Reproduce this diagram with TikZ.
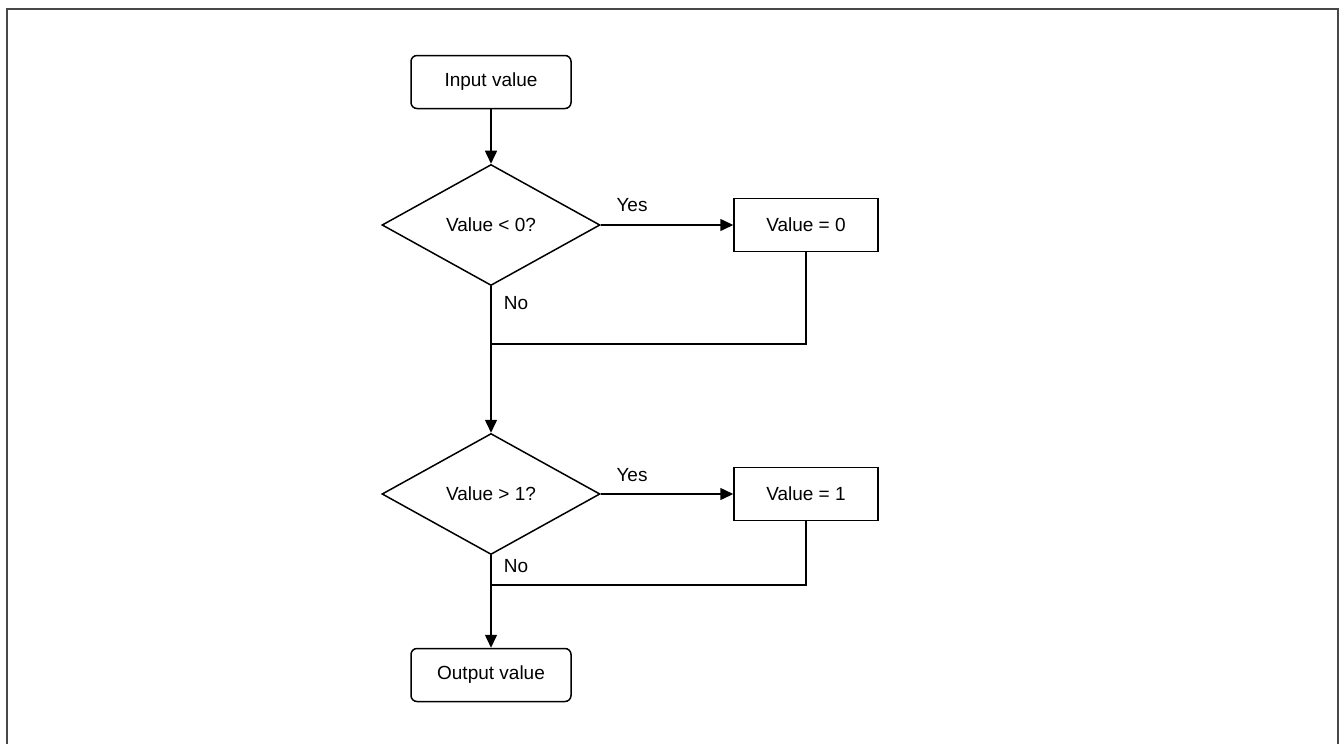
\documentclass[tikz,border=0pt]{standalone}
\usepackage{fontspec}
\setmainfont{Liberation Sans}
\usetikzlibrary{shapes.geometric,arrows.meta}
\begin{document}
\begin{tikzpicture}[x=1pt,y=-1pt,
  every node/.style={font=\fontsize{19}{23}\selectfont},
  conn/.style={line width=1.5pt,draw=black},
  arr/.style={conn,-{Triangle[length=13pt,width=12pt]}},
  term/.style={draw,line width=1.5pt,rounded corners=6pt,minimum width=160pt,minimum height=53pt,inner sep=0pt},
  proc/.style={draw,line width=1.5pt,minimum width=144pt,minimum height=53pt,inner sep=0pt},
  decision/.style={draw,line width=1.5pt,diamond,aspect=1.8,minimum width=218pt,minimum height=121pt,inner sep=0pt},
  lbl/.style={inner sep=0pt}]
\useasboundingbox (0,0) rectangle (1341,744);
\fill[white] (0,0) rectangle (1341,744);
\draw[line width=2pt,draw=black!72] (7,9) rectangle (1338,760);
\node[term] (in) at (491,82) {Input value};
\node[decision] (d1) at (491,225) {Value < 0?};
\node[proc] (v0) at (806,225) {Value = 0};
\node[decision] (d2) at (491,494) {Value > 1?};
\node[proc] (v1) at (806,494) {Value = 1};
\node[term] (out) at (491,675) {Output value};
\coordinate (m1) at (491,344);
\coordinate (m2) at (491,585);
\draw[arr] (in) -- (d1);
\draw[arr] (d1.east) -- (v0.west);
\draw[conn] (v0.south) |- (m1);
\draw[arr] (d1.south) -- (d2.north);
\draw[arr] (d2.east) -- (v1.west);
\draw[conn] (v1.south) |- (m2);
\draw[arr] (d2.south) -- (out.north);
\node[lbl] (y1) at (632,205) {Yes};
\node[lbl] (n1) at (516,303) {No};
\node[lbl] (y2) at (632,475) {Yes};
\node[lbl] (n2) at (516,566) {No};
\end{tikzpicture}
\end{document}
